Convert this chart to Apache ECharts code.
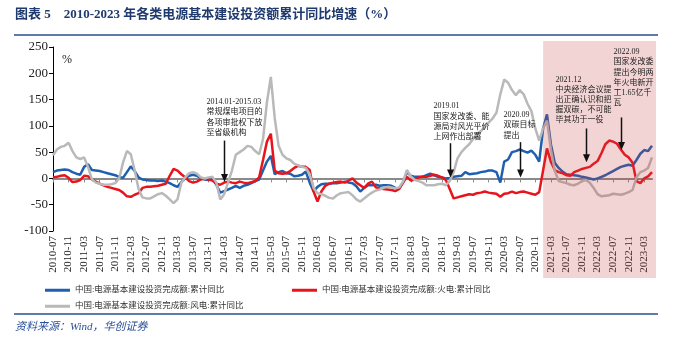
<!DOCTYPE html>
<html>
<head>
<meta charset="utf-8">
<script src="https://cdn.jsdelivr.net/npm/echarts@6/dist/echarts.min.js"></script>
<style>
html,body{margin:0;padding:0;background:#fff}
#c{width:673px;height:338px}
</style>
</head>
<body>
<div id="c"></div>
<script>
// Monthly categories, 2010-07 .. 2023-05
const FIRST_YEAR = 2010, FIRST_MONTH = 7, MONTH_COUNT = 155;
const months = [];
for (let k = 0; k < MONTH_COUNT; k++) {
  const m = FIRST_MONTH - 1 + k;
  months.push((FIRST_YEAR + Math.floor(m / 12)) + '-' + String(m % 12 + 1).padStart(2, '0'));
}

// 中国:电源基本建设投资完成额:累计同比 (%)
const totalYoY = [
  12, 15, 16, 17, 16, 12, 9, 7, 22, 27,
  16, 15, 14, 12, 10, 8, 6, 3, 1, 12,
  23, 14, 2, -2, -3, -4, -4, -5, -4, -6,
  -9, -13, -16, -7, 0, 5, 7, 5, 1, -2,
  -3, 0, -12, -27, -24, -21, -18, -14, -18, -14,
  -12, -9, -5, -2, 15, 32, 43, 8, 12, 14,
  10, 9, 4, 5, 7, 13, -8, -25, -16, -11,
  -10, -10, -9, -9, -8, -6, -8, -9, -15, -25,
  -18, -13, -13, -12, -14, -13, -13, -14, -18, -19,
  -8, 12, 5, 3, 3, 3, 6, 9, 6, 3,
  2, 0, 1, 3, 4, 5, 12, 8, 9, 10,
  12, 13, 15, 15, 12, -8, 32, 36, 50, 52,
  55, 52, 49, 53, 45, 32, 95, 122, 65, 30,
  20, 13, 8, 7, 6, 5, 3, 2, 0, -2,
  0, 3, 6, 10, 14, 18, 22, 24, 26, 24,
  35, 47, 54, 52, 62
];

// 中国:电源基本建设投资完成额:火电:累计同比 (%)
const thermalYoY = [
  2, 3, 5, 6, 1, -7, -6, -3, 5, 4,
  -2, -6, -10, -13, -16, -18, -20, -22, -27, -34,
  -35, -31, -28, -18, -16, -16, -15, -14, -12, -10,
  5, 18, 15, 8, 2, -5, -8, -6, -2, 0,
  -2, -4, -10, -12, -8, -6, -8, -9, -6, -8,
  -9, -7, -5, 2, 35, 70, 85, 15, 10, 9,
  10, 14, 20, 24, 22, 22, 16, -25, -44, -25,
  -14, -10, -8, -7, -6, -8, -4, 0, -8, -13,
  -18, -10, -6, -17, -19, -20, -21, -22, -24, -20,
  -8, 3, -4, -2, 2, 3, 3, 5, 7, 5,
  2, -3, -20, -38, -36, -34, -32, -30, -31, -28,
  -27, -25, -27, -28, -29, -35, -29, -28, -25, -28,
  -26, -25, -27, -29, -31, -26, 15, 57, 32, 16,
  12, 10, 6, 5, 12, 15, 18, 20, 22, 28,
  33, 48, 65, 72, 70, 66, 55, 45, 40, 30,
  -5, -9, 0, 4, 12
];

// 中国:电源基本建设投资完成额:风电:累计同比 (%)
const windYoY = [
  44, 55, 60, 62, 68, 52, 40, 37, 40, 22,
  -2, -8, -10, -12, -12, -11, -9, 0, 30, 52,
  46, 15, -20, -36, -38, -38, -34, -30, -28, -33,
  -40, -47, -40, -8, 2, 10, 12, 9, 2, 0,
  2, 3, -8, -40, -30, -8, 15, 45, 50, 55,
  62, 60, 52, 46, 75, 145, 193, 115, 62, 45,
  38, 35, 28, 25, 22, 20, 8, -18, -28, -30,
  -33, -37, -38, -32, -28, -27, -26, -32, -40, -44,
  -38, -32, -27, -23, -21, -18, -16, -17, -19, -17,
  -6, 16, 4, -3, -5, -8, -13, -13, -13, -11,
  -10, -13, -5, 12, 38, 50, 58, 65, 75, 85,
  90, 98, 106, 114, 125, 160, 188, 182, 168, 158,
  168, 160, 142, 128, 95, 72, 95, 110, 55, 15,
  -5, -7, -9, -12, -13, -10, -5, -3, -8, -18,
  -30, -34, -33, -32, -29, -30, -31, -29, -26, -22,
  2, 12, 15, 20, 40
];

const seriesNames = [
  '中国:电源基本建设投资完成额:累计同比',
  '中国:电源基本建设投资完成额:火电:累计同比',
  '中国:电源基本建设投资完成额:风电:累计同比'
];

// value axis ticks
const yMin = -100, yMax = 250, yStep = 50;

// policy notes: month of the arrow, arrow span (value units), text block
const notes = [
  { at: '2014-03', from: 72, to: -7, textTop: 155, dx: -18,
    lines: ['2014.01-2015.03', '常规煤电项目的', '各项审批权下放', '至省级机构'] },
  { at: '2019-01', from: 67, to: 2, textTop: 147, dx: -17,
    lines: ['2019.01', '国家发改委、能', '源局对风光平价', '上网作出部署'] },
  { at: '2020-07', from: 69, to: 2, textTop: 130, dx: -17,
    lines: ['2020.09', '双碳目标', '提出'] },
  { at: '2021-12', from: 95, to: 31, textTop: 198, dx: -31,
    lines: ['2021.12', '中央经济会议提', '出正确认识和把', '握双碳，不可能', '毕其功于一役'] },
  { at: '2022-09', from: 116, to: 54, textTop: 250, dx: -8,
    lines: ['2022.09', '国家发改委', '提出今明两', '年火电新开', '工1.65亿千', '瓦'] }
];
const shadeFrom = '2021-01';

const SERIF = "'Liberation Serif', 'Noto Sans CJK SC', serif";
const CJK = "'Liberation Serif', 'Noto Sans CJK SC', sans-serif";
const colors = ['#1e5fb0', '#e8141c', '#b9b9b9'];
const values = [totalYoY, thermalYoY, windYoY];

const chart = echarts.init(document.getElementById('c'), null, { renderer: 'canvas' });

const legendBase = {
  orient: 'horizontal', icon: 'rect', itemWidth: 25, itemHeight: 3,
  textStyle: { fontFamily: CJK, fontSize: 8.5, color: '#333' }, itemGap: 4,
  selectedMode: false
};

const option = {
  animation: false,
  backgroundColor: '#fff',
  color: colors,
  grid: { left: 53, right: 21, top: 47, bottom: 107, containLabel: false },
  legend: [
    Object.assign({}, legendBase, { data: [seriesNames[0]], left: 40, top: 281 }),
    Object.assign({}, legendBase, { data: [seriesNames[1]], left: 287, top: 281 }),
    Object.assign({}, legendBase, { data: [seriesNames[2]], left: 40, top: 297 })
  ],
  xAxis: [
    {
      type: 'category', data: months, boundaryGap: false, position: 'bottom',
      axisLine: { show: false, onZero: false }, axisTick: { show: false },
      axisLabel: { interval: 3, rotate: 90, margin: 5, fontFamily: SERIF, fontSize: 11, color: '#222' }
    },
    {
      type: 'category', data: months, boundaryGap: false, position: 'bottom',
      axisLine: { show: true, onZero: true, lineStyle: { color: '#8a8a8a', width: 2 } },
      axisTick: { show: true, interval: 3, length: 4, lineStyle: { color: '#8a8a8a', width: 1 } },
      axisLabel: { show: false }
    }
  ],
  yAxis: {
    type: 'value', min: yMin, max: yMax, interval: yStep,
    splitLine: { show: false },
    axisLine: { show: true, onZero: false, lineStyle: { color: '#000', width: 1 } },
    axisTick: { show: true, length: 4, lineStyle: { color: '#000' } },
    axisLabel: { margin: 5, fontFamily: SERIF, fontSize: 13, color: '#222' }
  },
  series: seriesNames.map((name, i) => ({
    name, type: 'line', data: values[i], xAxisIndex: 0,
    symbol: 'circle', symbolSize: 3, showSymbol: false,
    lineStyle: { width: 2.5, color: colors[i] }, itemStyle: { color: colors[i] },
    z: 2 + i
  }))
};

chart.setOption(option);

// Overlays: title, rules, shaded period, policy arrows and notes
const px = (c, v) => chart.convertToPixel({ xAxisIndex: 0, yAxisIndex: 0 }, [c, v]);
const graphics = [];

graphics.push({
  type: 'text', left: 15, top: 8, z: 100,
  style: { text: '图表 5    2010-2023 年各类电源基本建设投资额累计同比增速（%）',
    font: "bold 13px 'Liberation Serif', 'Noto Sans CJK SC'", fill: '#1f3a6e' }
});
graphics.push({ type: 'line', z: 100, shape: { x1: 14, y1: 35, x2: 658, y2: 35 },
  style: { stroke: '#2c4f8c', lineWidth: 1.5 } });
graphics.push({ type: 'line', z: 100, shape: { x1: 14, y1: 314, x2: 658, y2: 314 },
  style: { stroke: '#2c4f8c', lineWidth: 1.5 } });
graphics.push({
  type: 'text', left: 15, top: 322, z: 100,
  style: { text: '资料来源：Wind，华创证券',
    font: "italic 11px 'Liberation Serif', 'Noto Sans CJK SC'", fill: '#2a5096' }
});
graphics.push({
  type: 'text', left: 62, top: 54, z: 100,
  style: { text: '%', font: "12px 'Liberation Serif'", fill: '#222' }
});

const shadeX = px(shadeFrom, 0)[0];
graphics.push({
  type: 'rect', z: 50, shape: { x: shadeX, y: 41, width: 656 - shadeX, height: 237 },
  style: { fill: 'rgba(200,60,60,0.22)' }
});

notes.forEach(n => {
  const p1 = px(n.at, n.from), p2 = px(n.at, n.to);
  const x = Math.round(p1[0]) + 0.5;
  graphics.push({ type: 'line', z: 110, shape: { x1: x, y1: p1[1], x2: x, y2: p2[1] - 6 },
    style: { stroke: '#111', lineWidth: 1.5 } });
  graphics.push({ type: 'polygon', z: 110,
    shape: { points: [[x - 3.5, p2[1] - 8], [x + 3.5, p2[1] - 8], [x, p2[1]]] },
    style: { fill: '#111' } });
  const t = px(n.at, n.textTop);
  graphics.push({
    type: 'text', z: 110, x: x + n.dx, y: t[1],
    style: { text: n.lines.join('\n'), font: "8px 'Liberation Serif', 'Noto Sans CJK SC'",
      fill: '#222', lineHeight: 10.2, textVerticalAlign: 'top' }
  });
});

chart.setOption({ graphic: graphics });
</script>
</body>
</html>
